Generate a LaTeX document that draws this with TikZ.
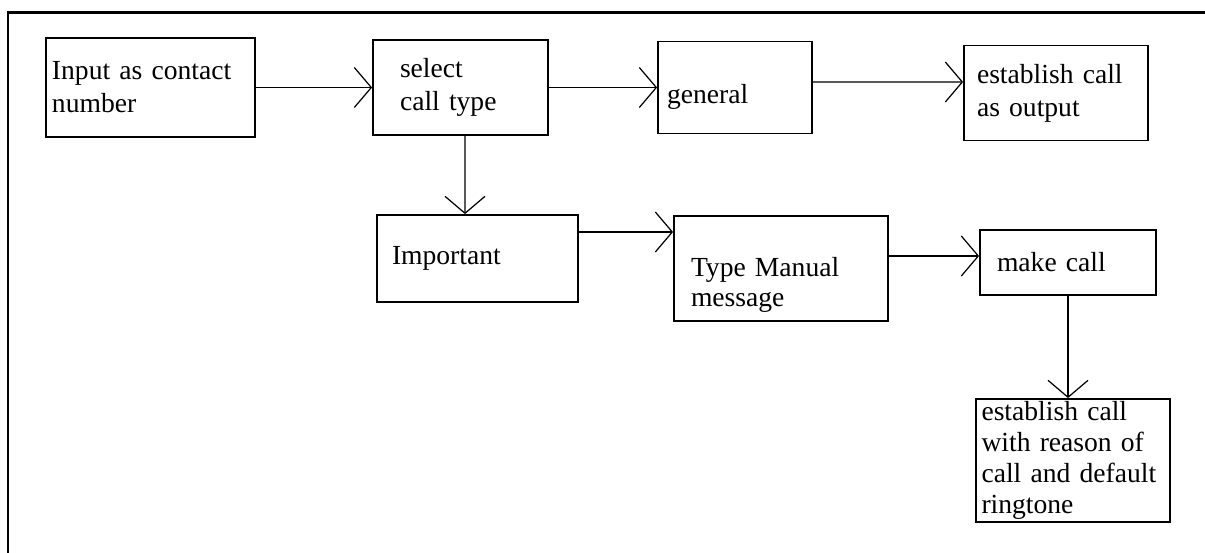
\documentclass[tikz,border=0pt]{standalone}
\usepackage{fontspec}
\setmainfont{Liberation Serif}
\usetikzlibrary{arrows.meta,positioning}

\begin{document}
\begin{tikzpicture}[node distance=2cm,on grid,
		box/.style={draw,rectangle,line width=1pt,inner xsep=0pt,inner ysep=1pt,align=left,
			font=\fontsize{15.7}{18.8}\selectfont},
		arr/.style={-{Straight Barb[length=0.34cm,width=0.8cm]},line width=0.7pt}]
		\useasboundingbox (0,0) rectangle (24.1,-11.06);
		% frame
		\draw[line width=1.5pt] (0.16,-11.06) |- (24.1,-0.25);
		
		% top row
		\node[box, minimum width=4.18cm, minimum height=1.98cm, text width=3.94cm] (in) at (3.01,-1.75) {Input as contact\\number};
		\node[box, minimum width=3.5cm, minimum height=1.9cm, text width=2.42cm, right = 6.2cm of in] (sel) {select\\call type};
		\node[box, minimum width=3.08cm, minimum height=1.84cm, text width=2.72cm, text height=22pt, right = 5.49cm of sel] (gen) {general};
		\node[box, minimum width=3.68cm, minimum height=1.9cm, text width=3.16cm, below right = 0.11cm and 6.42cm of gen] (out) {establish call\\as output};
		
		% bottom row
		\node[box, minimum width=4.02cm, minimum height=1.74cm, text width=3.42cm, below right = 3.42cm and 0.34cm of sel] (imp) {Important};
		\node[box, minimum width=4.28cm, minimum height=2.1cm, text width=3.6cm, text height=30pt,
			font=\fontsize{15.7}{17.1}\selectfont, below right = 0.2cm and 6.07cm of imp] (msg) {Type Manual\\message};
		\node[box, minimum width=3.52cm, minimum height=1.3cm, text width=2.84cm, above right = 0.12cm and 5.74cm of msg] (mk) {make call};
		\node[box, minimum width=3.88cm, minimum height=2.46cm, text width=3.66cm,
			font=\fontsize{15.7}{17.6}\selectfont, below right = 3.96cm and 0.1cm of mk] (est) {establish call\\with reason of\\call and default\\ringtone};
		
		% arrows
		\path[arr] (in.east) edge (sel.west)
		(sel.east) edge (gen.west)
		([yshift=0.11cm]gen.east) edge ([yshift=0.22cm]out.west)
		([xshift=0.09cm]sel.south) edge ([xshift=-0.25cm]imp.north)
		([yshift=0.53cm]imp.east) edge ([yshift=0.73cm]msg.west)
		([yshift=0.25cm]msg.east) edge ([yshift=0.13cm]mk.west)
		(mk.south) edge ([xshift=-0.1cm]est.north);
\end{tikzpicture}
\end{document}
